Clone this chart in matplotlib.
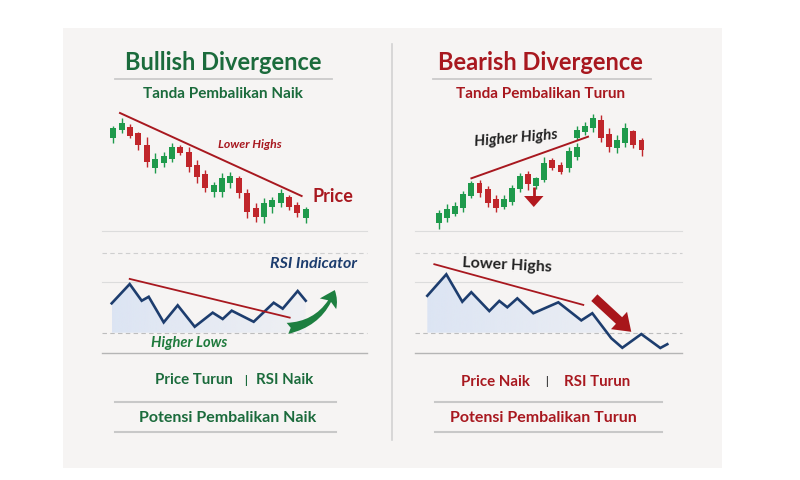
import numpy as np
import matplotlib
matplotlib.use("Agg")
import matplotlib.pyplot as plt
from matplotlib.patches import Rectangle, FancyArrowPatch, Polygon

# ---- data ----
# bullish side: price keeps falling (lower highs)
bull_open  = [92, 100, 103, 97, 85, 62, 67, 71, 83, 78, 65, 56, 38, 38, 47, 52, 37, 22, 13, 23, 27, 33, 25, 12]
bull_close = [102, 107, 94, 85, 68, 71, 74, 83, 77, 63, 53, 42, 45, 52, 54, 37, 18, 13, 27, 30, 37, 23, 17, 21]
bull_high  = [104, 112, 106, 98, 93, 77, 78, 87, 85, 83, 70, 60, 48, 57, 58, 54, 41, 27, 32, 33, 41, 35, 28, 23]
bull_low   = [87, 97, 92, 80, 63, 57, 63, 68, 75, 58, 47, 38, 33, 33, 42, 32, 12, 8, 7, 17, 23, 20, 13, 7]
bull_trend = ([0.8, 22.5], [117, 34])          # "Lower Highs" line

# bullish RSI (rising lows)
bull_rsi_t = [0, 18, 30, 37, 52, 66, 83, 101, 111, 120, 142, 162, 171, 186, 194]
bull_rsi   = [44.8, 54.5, 46.1, 48.1, 35.2, 43.8, 33.0, 40.1, 36.9, 41.1, 35.5, 45.1, 42.1, 51.0, 46.1]
bull_rsi_trend = ([18, 178], [57.1, 37.6])

# bearish side: price keeps rising (higher highs)
bear_idx   = [0, 1, 2, 3, 4, 5, 6, 7, 8, 9, 10, 11, 12, 13, 14, 15, 16, 17, 17, 18, 19, 20, 21, 22, 23, 24, 25]
bear_open  = [17, 22, 26, 32, 44, 57, 51, 41, 33, 38, 51, 66, 54, 60, 80, 75, 72, 83, 102, 108, 112, 120, 106, 92, 97, 109, 100]
bear_close = [27, 31, 34, 46, 57, 47, 37, 32, 41, 52, 64, 56, 62, 77, 72, 68, 89, 93, 110, 114, 122, 102, 93, 100, 112, 95, 90]
bear_high  = [30, 36, 38, 49, 59, 60, 54, 45, 45, 55, 67, 69, 63, 83, 82, 78, 93, 97, 114, 118, 126, 125, 112, 105, 117, 110, 102]
bear_low   = [11, 18, 24, 28, 42, 43, 33, 28, 31, 35, 48, 50, 51, 58, 70, 66, 68, 80, 100, 105, 108, 98, 88, 87, 93, 92, 84]
bear_trend = ([4.0, 18.4], [61.7, 103.3])      # "Higher Highs" line

# bearish RSI (falling highs)
bear_rsi_t = [0, 19, 35, 44, 62, 72, 80, 90, 106, 131, 154, 165, 184, 195, 214, 233, 240]
bear_rsi   = [48.6, 59.4, 45.6, 50.4, 40.9, 46.0, 42.8, 47.3, 39.8, 45.3, 36.2, 39.8, 27.2, 22.4, 29.3, 22.3, 24.2]
bear_rsi_trend = ([7, 156], [64.5, 44.0])

GREEN = "#1b6b3c"
RED = "#a8181f"
C_UP = "#1f9a4c"
C_DN = "#c0262b"
NAVY = "#1d3d6e"
FONT = "Lato"

fig = plt.figure(figsize=(8, 4.8), dpi=100)
fig.patch.set_facecolor("white")

# overlay in pixel coordinates for panel, text and rules
bg = fig.add_axes([0, 0, 1, 1])
bg.set_xlim(0, 800)
bg.set_ylim(480, 0)
bg.axis("off")
bg.add_patch(Rectangle((63, 28), 659, 440, color="#f6f4f3", lw=0))
bg.plot([392, 392], [44, 440], color="#d2d2d2", lw=1.2)


def px_axes(x0, y0, x1, y1, xlim, ylim):
    ax = fig.add_axes([x0 / 800, 1 - y1 / 480, (x1 - x0) / 800, (y1 - y0) / 480])
    ax.set_xlim(*xlim)
    ax.set_ylim(*ylim)
    ax.axis("off")
    ax.patch.set_visible(False)
    return ax


def candles(ax, idx, o, c, h, l):
    for x, op, cl, hi, lo in zip(idx, o, c, h, l):
        col = C_UP if cl > op else C_DN
        ax.vlines(x, lo, hi, color=col, lw=1.0)
        ax.bar(x, abs(cl - op), bottom=min(op, cl), width=0.72, color=col, lw=0)


def rsi_fill(ax, t, v, where=None):
    # light blue area under the RSI line, fading to the right
    poly = ax.fill_between(t, v, 30, where=where, interpolate=True, color="none", lw=0)
    grad = np.zeros((1, 256, 4))
    grad[..., :3] = matplotlib.colors.to_rgb("#dbe4f3")
    grad[..., 3] = np.linspace(0.95, 0.25, 256)
    im = ax.imshow(grad, extent=(t[0], t[-1], 30, max(v)), aspect="auto", zorder=1)
    im.set_clip_path(poly.get_paths()[0], transform=ax.transData)


def header(cx, title, sub, x0, x1, col):
    bg.text(cx, 62, title, ha="center", va="center", fontsize=17, fontweight="bold",
            color=col, family=FONT)
    bg.plot([x0, x1], [79.3, 79.3], color="#cbcbcb", lw=1.3)
    bg.text(cx, 94, sub, ha="center", va="center", fontsize=11, fontweight="bold",
            color=col, family=FONT)


def rsi_grid(x0, x1):
    bg.plot([x0, x1], [231, 231], color="#dcdcdc", lw=0.8)
    bg.plot([x0, x1], [253.3, 253.3], color="#cfcfcf", lw=0.8, ls=(0, (4, 3)))
    bg.plot([x0, x1], [282.3, 282.3], color="#dcdcdc", lw=0.8)
    bg.plot([x0, x1], [332.7, 332.7], color="#bdbdbd", lw=0.8, ls=(0, (4, 3)))
    bg.plot([x0, x1], [353.3, 353.3], color="#b5b5b5", lw=1.0)


def footer(y, cx_parts, bar_x, cx, text, x0, x1, col, bar_col):
    (a, ax_), (b, bx) = cx_parts
    bg.text(ax_, y, a, ha="center", va="center", fontsize=10.8, fontweight="bold", color=col, family=FONT)
    bg.text(bar_x, y, "|", ha="center", va="center", fontsize=8, fontweight="bold", color=bar_col, family=FONT)
    bg.text(bx, y, b, ha="center", va="center", fontsize=10.8, fontweight="bold", color=col, family=FONT)
    bg.plot([x0, x1], [401.7, 401.7], color="#c8c8c8", lw=1.5)
    bg.text(cx, 417.5, text, ha="center", va="center", fontsize=11.5, fontweight="bold", color=col, family=FONT)
    bg.plot([x0, x1], [432.3, 432.3], color="#c8c8c8", lw=1.5)


# ---------------- left: bullish ----------------
header(223.3, "Bullish Divergence", "Tanda Pembalikan Naik", 115, 332, GREEN)

# price axes: index -> px = 113.3 + 8.37*i ; price -> py = 230 - p
ax1 = px_axes(100, 105, 320, 235, ((100 - 113.3) / 8.37, (320 - 113.3) / 8.37), (-5, 125))
candles(ax1, range(len(bull_open)), bull_open, bull_close, bull_high, bull_low)
ax1.plot(*bull_trend, color=RED, lw=1.4)
bg.text(250, 145, "Lower Highs", ha="center", va="center", fontsize=8.8, fontweight="bold",
        style="italic", color=RED, family=FONT)
bg.text(332.5, 196, "Price", ha="center", va="center", fontsize=13, fontweight="bold",
        color=RED, family=FONT)

rsi_grid(101.7, 366.7)
# rsi axes: t -> px = 111.7 + t ; rsi -> py = 332.7 - (rsi-30)*1.985
r_lo = 30 + (332.7 - 365) / 1.985
r_hi = 30 + (332.7 - 240) / 1.985
ax2 = px_axes(95, 240, 370, 365, (95 - 111.7, 370 - 111.7), (r_lo, r_hi))
rsi_fill(ax2, bull_rsi_t, bull_rsi)
ax2.plot(bull_rsi_t, bull_rsi, color=NAVY, lw=1.9, solid_joinstyle="miter", zorder=3)
ax2.plot(*bull_rsi_trend, color=RED, lw=1.3, zorder=3)
ax2.add_patch(FancyArrowPatch((173, 32.0), (224, 52.8), connectionstyle="arc3,rad=0.32",
                              arrowstyle="fancy,head_length=11,head_width=14,tail_width=8",
                              color="#1d7f40", lw=0, mutation_scale=1, zorder=4))
bg.text(313.5, 263.5, "RSI Indicator", ha="center", va="center", fontsize=11.5, fontweight="bold",
        style="italic", color=NAVY, family=FONT)
bg.text(189, 343, "Higher Lows", ha="center", va="center", fontsize=10.5, fontweight="bold",
        style="italic", color="#1e7a3c", family=FONT)

footer(380, (("Price Turun", 194), ("RSI Naik", 285)), 246, 228, "Potensi Pembalikan Naik",
       115, 336, GREEN, GREEN)

# ---------------- right: bearish ----------------
header(540.8, "Bearish Divergence", "Tanda Pembalikan Turun", 433, 651, RED)

# price axes: index -> px = 439 + 8.1*k ; price -> py = 240 - p
ax3 = px_axes(425, 105, 660, 235, ((425 - 439) / 8.1, (660 - 439) / 8.1), (5, 135))
candles(ax3, bear_idx, bear_open, bear_close, bear_high, bear_low)
ax3.plot(*bear_trend, color=RED, lw=1.4)
ax3.vlines(11.7, 44, 53, color="#b3191f", lw=2)
ax3.add_patch(Polygon([(11.7 - 1.2, 44), (11.7 + 1.2, 44), (11.7, 33)], color="#b3191f", lw=0))
bg.text(515.5, 138.5, "Higher Highs", ha="center", va="center", fontsize=11, fontweight="bold",
        style="italic", color="#222222", rotation=5, family=FONT)

rsi_grid(415, 681.7)
ax4 = px_axes(415, 240, 690, 365, (415 - 427.3, 690 - 427.3), (r_lo, r_hi))
rsi_fill(ax4, bear_rsi_t, bear_rsi, where=[v >= 30 for v in bear_rsi])
ax4.plot(bear_rsi_t, bear_rsi, color=NAVY, lw=1.9, solid_joinstyle="miter", zorder=3)
ax4.plot(*bear_rsi_trend, color=RED, lw=1.3, zorder=3)
ax4.add_patch(FancyArrowPatch((165, 48.6), (206, 29.5),
                              arrowstyle="simple,head_length=12,head_width=17,tail_width=6.5",
                              color="#a8161b", lw=0, mutation_scale=1, zorder=4))
bg.text(506.7, 265, "Lower Highs", ha="center", va="center", fontsize=11.5, fontweight="bold",
        color="#222222", rotation=-3, family=FONT)

footer(381.5, (("Price Naik", 495), ("RSI Turun", 597)), 546.7, 543.3, "Potensi Pembalikan Turun",
       435, 662, RED, "#444444")

fig.savefig("out.png", dpi=100)
